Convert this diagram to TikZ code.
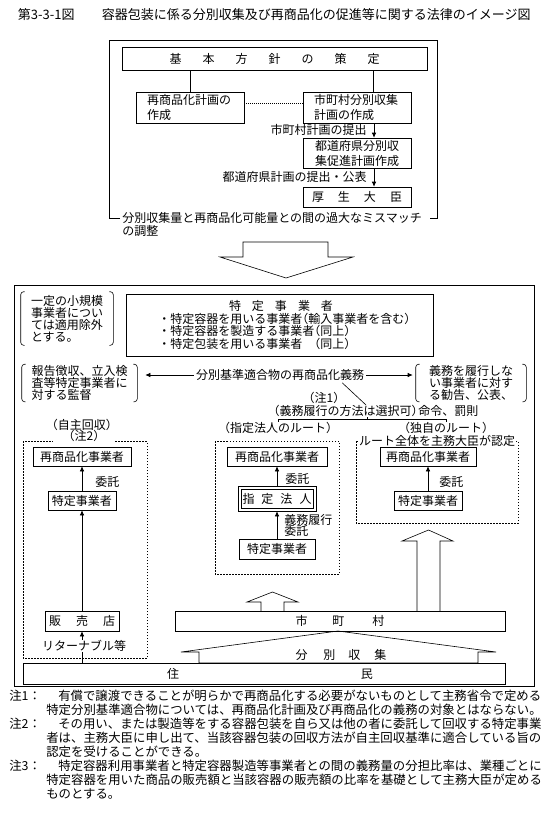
\documentclass[tikz,border=0pt]{standalone}
\usepackage{fontspec}
\setmainfont{Noto Sans CJK JP}
\usetikzlibrary{arrows.meta}
\newcommand{\lpar}{\makebox[6pt][r]{（}}
\newcommand{\rpar}{\makebox[6pt][l]{）}}

\begin{document}
\begin{tikzpicture}[x=1pt,y=-1pt,line width=0.6pt,font=\fontsize{12}{12.5}\selectfont,
 bx/.style={draw,inner sep=0pt,minimum height=19pt},
 tb/.style={bx,align=left,text width=86pt,font=\fontsize{12}{15}\selectfont},
 lst/.style={align=left,inner sep=0pt},
 brk/.style={align=left,inner ysep=0pt,font=\fontsize{12}{12}\selectfont},
 ar/.style={-{Latex[length=5pt,width=4.5pt]}},
 dbox/.style={draw,dash pattern=on 1.5pt off 1.5pt},
 note/.style={anchor=west,inner sep=0pt,font=\fontsize{12.4}{13}\selectfont}]
\useasboundingbox (0,0) rectangle (553,815);

% title
\node[anchor=west,inner sep=0pt,font=\fontsize{13}{13}\selectfont] (title) at (17.6,15) {\makebox[84pt][l]{第3-3-1図}容器包装に係る分別収集及び再商品化の促進等に関する法律のイメージ図};

% upper part
\draw (120,218) -- (109,218) -- (109,40) -- (437,40) -- (437,218) -- (430,218);
\node[bx,minimum width=305pt,minimum height=23pt] (kihon) at (274.5,58.5) {基\hspace{21pt}本\hspace{21pt}方\hspace{21pt}針\hspace{21pt}の\hspace{21pt}策\hspace{21pt}定};
\node[tb,minimum width=108pt,minimum height=31pt] (saisho) at (190,107.5) {再商品化計画の\\作成};
\node[tb,minimum width=108pt,minimum height=31pt] (shicho) at (357,107.5) {市町村分別収集\\計画の作成};
\node[tb,align=center,minimum width=108pt,minimum height=30pt] (todo) at (357,153) {都道府県分別収\\集促進計画作成};
\node[bx,minimum width=108pt,minimum height=20pt] (kosei) at (357,197) {厚\hspace{14pt}生\hspace{14pt}大\hspace{14pt}臣};
\draw (saisho.north |- kihon.south) -- (saisho.north);
\draw ([xshift=16pt]shicho.north |- kihon.south) -- ([xshift=16pt]shicho.north);
\draw[dash pattern=on 1pt off 1pt] ([yshift=4pt]saisho.east) -- ([yshift=4pt]shicho.west);
\draw[ar] ([xshift=17pt]shicho.south) -- ([xshift=17pt]todo.north);
\draw[ar] ([xshift=17pt]todo.south) -- ([xshift=17pt]kosei.north);
\node[anchor=east,inner sep=0pt] (teishutsu1) at (367,130) {市町村計画の提出};
\node[anchor=east,inner sep=0pt] (teishutsu2) at (367,177) {都道府県計画の提出・公表};
\node[anchor=west,inner sep=0pt] (chosei) at (122,218) {分別収集量と再商品化可能量との間の過大なミスマッチ};
\node[anchor=west,inner sep=0pt] (chosei2) at (122,231) {の調整};

% big hollow arrow
\draw (243,242) -- (328,242) -- (328,257) -- (353,257) -- (286,278) -- (220,257) -- (243,257) -- cycle;

% lower part
\draw (14,285) rectangle (534,686);
\node[bx,minimum width=307pt,minimum height=62pt] (toku) at (279.5,325) {};
\node[inner sep=0pt] (tokut) at (281,306) {特\hspace{11pt}定\hspace{11pt}事\hspace{11pt}業\hspace{11pt}者};
\node[lst,anchor=west] (tokul) at (158,331) {・特定容器を用いる事業者\lpar 輸入事業者を含む\rpar\\・特定容器を製造する事業者\lpar 同上\rpar\\・特定包装を用いる事業者　\lpar 同上\rpar};

\node[brk,text width=72pt,inner xsep=10pt,minimum height=53pt] (exc) at (67,318.5) {一定の小規模\\事業者につい\\ては適用除外\\とする。};
\node[brk,text width=96pt,inner xsep=9.5pt,minimum height=37pt] (sup) at (79.5,383) {報告徴収、立入検\\査等特定事業者に\\対する監督};
\node[brk,text width=84pt,inner xsep=13pt,minimum height=37pt] (rec) at (471,383) {義務を履行しな\\い事業者に対す\\る勧告、公表、};
\foreach \n in {exc,sup,rec}{
  \draw[rounded corners=3pt] ([xshift=4pt]\n.north west) -- (\n.north west) -- (\n.south west) -- ([xshift=4pt]\n.south west);
  \draw[rounded corners=3pt] ([xshift=-4pt]\n.north east) -- (\n.north east) -- (\n.south east) -- ([xshift=-4pt]\n.south east);
}

\node[inner sep=0pt] (gimu) at (280,375) {分別基準適合物の再商品化義務};
\coordinate (gl) at ([xshift=8pt]sup.east);
\coordinate (gr) at ([xshift=-3pt]rec.west);
\draw[ar] ([xshift=-2pt]gimu.west) -- (gl |- gimu.west);
\draw[ar] ([xshift=2pt]gimu.east) -- (gr |- gimu.east);
\node[inner sep=0pt] (chu1) at (324,398) {\lpar 注1\rpar};
\node[anchor=east,inner sep=0pt] (sentaku) at (418,411) {\lpar 義務履行の方法は選択可\rpar};
\node[anchor=west,inner sep=0pt] (meirei) at (418,411) {命令、罰則};
\draw ([xshift=-22pt,yshift=-2pt]gimu.south east) -- ([xshift=-52pt]sentaku.north east);

% routes
\node[inner sep=0pt] (rt1) at (278,428) {\lpar 指定法人のルート\rpar};
\node[inner sep=0pt] (rt2) at (446,428) {\lpar 独自のルート\rpar};
\coordinate (brm) at (367,419);
\draw (brm |- sentaku.south) -- (brm);
\draw (rt1.north) -- (rt1.north |- brm) -- (rt2.north |- brm) -- (rt2.north);

\draw[dbox] (23,441) rectangle (147,658);
\draw[dbox] (215,441) rectangle (339,574);
\draw[dbox] (356,441) rectangle (518,523);
\node[fill=white,inner xsep=16pt,inner ysep=1pt] (chu2) at (84,436) {\lpar 注2\rpar};
\node[inner sep=0pt] (rt0) at (82,425) {\lpar 自主回収\rpar};
\node[fill=white,inner xsep=1pt,inner ysep=0pt] (nintei) at (437,441) {ルート全体を主務大臣が認定};

% self collection
\node[bx,minimum width=98pt] (jsai) at (82,456.5) {再商品化事業者};
\node[bx,minimum width=68pt] (jtoku) at (82,500.5) {特定事業者};
\node[bx,minimum width=74pt,minimum height=20pt] (hanbai) at (82,621) {販\hspace{15pt}売\hspace{15pt}店};
\node[anchor=west,inner sep=0pt] (jitaku) at (95,482) {委託};
\draw[ar] (jtoku) -- (jsai);
\draw[ar] (hanbai) -- (jtoku);

% designated body
\node[bx,minimum width=100pt] (ssai) at (277,456.5) {再商品化事業者};
\node[bx,minimum width=72pt,minimum height=19pt] (shojin) at (277,499) {指\hspace{7pt}定\hspace{7pt}法\hspace{7pt}人};
\draw ([shift={(-2.5pt,2.5pt)}]shojin.north west) rectangle ([shift={(2.5pt,-2.5pt)}]shojin.south east);
\node[bx,minimum width=76pt,minimum height=20pt] (stoku) at (277,549) {特定事業者};
\draw[ar] ([yshift=2.5pt]shojin.north) -- (ssai.south);
\draw[ar] (stoku.north) -- ([yshift=-2.5pt]shojin.south);
\node[anchor=west,inner sep=0pt] (sitaku) at (285,479) {委託};
\node[anchor=west,inner sep=0pt,align=left,font=\fontsize{12}{11.5}\selectfont] (sgimu) at (284,525.5) {義務履行\\委託};

% own route
\node[bx,minimum width=96pt] (dsai) at (428,456.5) {再商品化事業者};
\node[bx,minimum width=68pt] (dtoku) at (428,500.5) {特定事業者};
\draw[ar] (dtoku) -- (dsai);
\node[anchor=west,inner sep=0pt] (dtaku) at (439,482) {委託};

% municipalities and residents
\draw (417,611) -- (417,541) -- (402,541) -- (428.5,530) -- (453,541) -- (440,541) -- (440,611);
\draw (261,611) -- (261,602) -- (247,602) -- (272.5,592) -- (298,602) -- (284,602) -- (284,611);
\node[bx,minimum width=330pt,minimum height=20pt] (machi) at (340,621) {市\hspace{25pt}町\hspace{28pt}村};
\draw (181,652) -- (199,652) -- (199,663) -- (478,663) -- (478,652) -- (496,652) -- (338,631) -- cycle;
\node[inner sep=0pt] (bunbetsu) at (341,655) {分\hspace{16pt}別\hspace{13pt}収\hspace{14pt}集};
\node[bx,minimum width=482pt,minimum height=21pt] (jumin) at (264,673.5) {\hspace{12pt}住\hspace{182pt}民};
\draw[ar] (hanbai.south |- jumin.north) -- (hanbai.south);
\node[fill=white,inner xsep=1pt,inner ysep=0.5pt] (ritan) at (84,646) {リターナブル等};

% notes
\node[note] (n1a) at (9,696) {\makebox[49pt][l]{注1：}有償で譲渡できることが明らかで再商品化する必要がないものとして主務省令で定める};
\node[note] (n1b) at (46,710) {特定分別基準適合物については、再商品化計画及び再商品化の義務の対象とはならない。};
\node[note] (n2a) at (9,724) {\makebox[49pt][l]{注2：}その用い、または製造等をする容器包装を自ら又は他の者に委託して回収する特定事業};
\node[note] (n2b) at (46,738) {者は、主務大臣に申し出て、当該容器包装の回収方法が自主回収基準に適合している旨の};
\node[note] (n2c) at (46,752) {認定を受けることができる。};
\node[note] (n3a) at (9,766) {\makebox[49pt][l]{注3：}特定容器利用事業者と特定容器製造等事業者との間の義務量の分担比率は、業種ごとに};
\node[note] (n3b) at (46,780) {特定容器を用いた商品の販売額と当該容器の販売額の比率を基礎として主務大臣が定める};
\node[note] (n3c) at (46,794) {ものとする。};
\end{tikzpicture}
\end{document}
